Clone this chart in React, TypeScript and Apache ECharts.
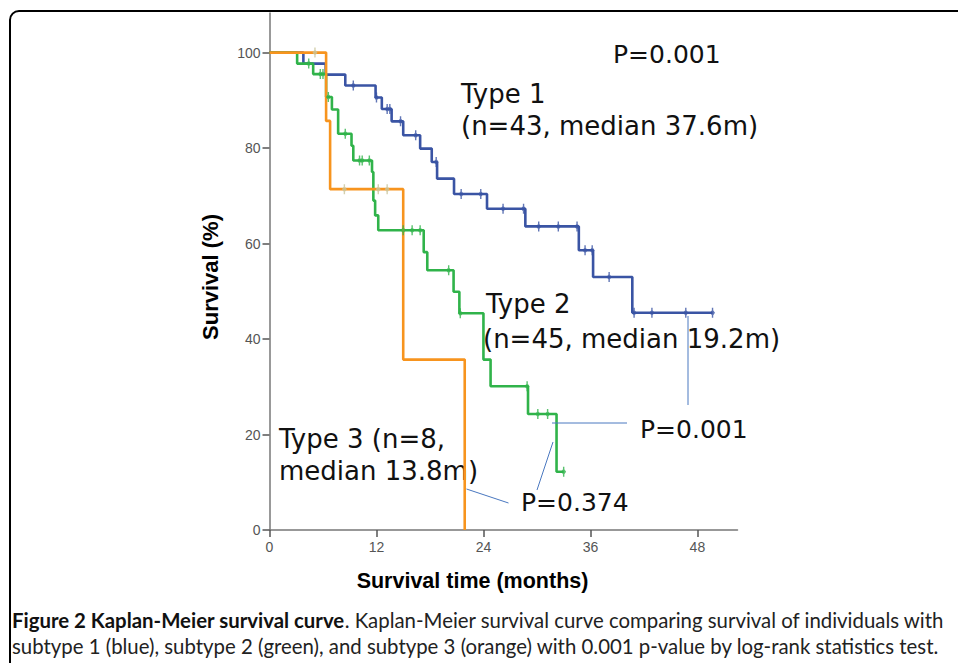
import React, { useEffect, useRef } from "react";
import * as echarts from "echarts";

// ---- axis ticks ----
const xTicks = [0, 12, 24, 36, 48];
const yTicks = [0, 20, 40, 60, 80, 100];

// ---- Type 1 (blue) ----
const type1Times = [0, 3.8, 6.3, 8.5, 11.9, 12.6, 13.7, 15.0, 16.9, 18.2, 18.8, 20.7, 24.4, 28.7, 34.7, 36.3, 40.7, 49.7];
const type1Surv = [100, 97.7, 95.4, 93.1, 90.6, 88.2, 85.6, 82.7, 79.9, 77.1, 73.6, 70.4, 67.3, 63.6, 58.6, 53.0, 45.5, 45.5];
const type1Censored = [9.4, 12.0, 13.2, 13.5, 14.7, 16.4, 18.7, 21.5, 23.7, 26.2, 28.5, 30.2, 32.4, 34.5, 35.4, 36.2, 38.1, 40.9, 42.9, 46.7, 49.7];

// ---- Type 2 (green) ----
const type2Times = [0, 3.1, 4.9, 6.35, 7.0, 7.7, 9.2, 9.4, 11.5, 11.65, 11.85, 12.2, 17.3, 17.7, 20.65, 21.3, 24.0, 24.8, 29.0, 32.2, 33.0];
const type2Surv = [100, 97.7, 95.5, 90.7, 88.1, 83.0, 80.5, 77.4, 75.0, 69.0, 65.9, 62.8, 58.2, 54.4, 49.9, 45.4, 35.7, 30.1, 24.3, 12.2, 12.2];
const type2Censored = [4.4, 5.7, 6.0, 6.6, 8.5, 10.1, 10.4, 11.2, 15.0, 16.0, 16.9, 20.1, 21.4, 28.9, 30.1, 31.2, 33.0];

// ---- Type 3 (orange) ----
const type3Times = [0, 6.35, 6.8, 15.0, 21.9];
const type3Surv = [100, 85.7, 71.4, 35.7, 0];
const type3Censored = [5.1, 8.4, 12.2, 13.2];

const BLUE = "#3a54a4";
const GREEN = "#30b34a";
const ORANGE = "#f7941e";
const ORANGE_CENSOR = "#c9c49a";
const NOTE_LINE = "#4a78c0";

const CENSOR_SYMBOL =
  "path://M-0.8,-4L0.8,-4L0.8,4L-0.8,4Z M0,-2.8L2.8,0L0,2.8L-2.8,0Z";

function stepValue(times: number[], surv: number[], t: number) {
  let v = surv[0];
  for (let i = 0; i < times.length; i++) if (times[i] <= t) v = surv[i];
  return v;
}

function curve(times: number[], surv: number[]) {
  return times.map((t, i) => [t, surv[i]]);
}

function censors(times: number[], surv: number[], cens: number[]) {
  return cens.map((t) => [t, stepValue(times, surv, t)]);
}

const CAP_BOLD = "Figure 2 Kaplan-Meier survival curve";
const CAP_REST = ". Kaplan-Meier survival curve comparing survival of individuals with";
const CAP_LINE2 =
  "subtype 1 (blue), subtype 2 (green), and subtype 3 (orange) with 0.001 p-value by log-rank statistics test.";
const CAP_FONT = "Lato";

function fitCaptionSize(): number {
  try {
    const c = document.createElement("canvas");
    const ctx = c.getContext("2d");
    if (!ctx) return 18;
    const base = 20;
    ctx.font = `bold ${base}px ${CAP_FONT}`;
    const w1 = ctx.measureText(CAP_BOLD).width;
    ctx.font = `${base}px ${CAP_FONT}`;
    const w2 = ctx.measureText(CAP_REST).width;
    const target = 933;
    return (base * target) / (w1 + w2);
  } catch (e) {
    return 18;
  }
}

export default function App() {
  const ref = useRef<HTMLDivElement>(null);

  useEffect(() => {
    if (!ref.current) return;
    const chart = echarts.init(ref.current, undefined, { renderer: "svg" });
    const capSize = fitCaptionSize();
    const pFont = { fontFamily: "DejaVu Sans", fontSize: 25, fill: "#111" };
    const noteFont = { fontFamily: "DejaVu Sans", fontSize: 26, fill: "#111" };

    const lineSeries = (name: string, data: number[][], color: string, z: number) => ({
      name,
      type: "line",
      step: "end",
      data,
      showSymbol: false,
      symbol: "none",
      lineStyle: { color, width: 2.6 },
      itemStyle: { color },
      z,
      silent: true,
    });
    const censorSeries = (name: string, data: number[][], color: string, z: number) => ({
      name,
      type: "scatter",
      data,
      symbol: CENSOR_SYMBOL,
      symbolKeepAspect: true,
      symbolSize: [7, 10],
      itemStyle: { color },
      z,
      silent: true,
    });

    chart.setOption({
      animation: false,
      backgroundColor: "#ffffff",
      grid: {
        left: 269.5,
        top: 13,
        width: 468,
        height: 517,
        containLabel: false,
        outerBoundsMode: "none",
      },
      xAxis: {
        type: "value",
        min: 0,
        max: 52.5,
        interval: 12,
        axisLine: { show: true, lineStyle: { color: "#777", width: 1.5 } },
        axisTick: { show: true, length: 7, lineStyle: { color: "#555", width: 1.5 }, customValues: xTicks },
        axisLabel: {
          color: "#555",
          fontSize: 14,
          fontFamily: "Liberation Sans",
          margin: 10,
          customValues: xTicks,
        },
        splitLine: { show: false },
      },
      yAxis: {
        type: "value",
        min: 0,
        max: 108.3,
        interval: 20,
        axisLine: { show: true, lineStyle: { color: "#777", width: 1.5 } },
        axisTick: { show: true, length: 7, lineStyle: { color: "#555", width: 1.5 }, customValues: yTicks },
        axisLabel: {
          color: "#555",
          fontSize: 14,
          fontFamily: "Liberation Sans",
          margin: 9,
          customValues: yTicks,
        },
        splitLine: { show: false },
      },
      series: [
        lineSeries("Type 1", curve(type1Times, type1Surv), BLUE, 2),
        lineSeries("Type 2", curve(type2Times, type2Surv), GREEN, 3),
        lineSeries("Type 3", curve(type3Times, type3Surv), ORANGE, 4),
        censorSeries("Type 1 censored", censors(type1Times, type1Surv, type1Censored), BLUE, 5),
        censorSeries("Type 2 censored", censors(type2Times, type2Surv, type2Censored), GREEN, 5),
        censorSeries("Type 3 censored", censors(type3Times, type3Surv, type3Censored), ORANGE_CENSOR, 5),
      ],
      graphic: [
        // outer frame
        {
          type: "rect",
          shape: { x: 10, y: 11, width: 1000, height: 720, r: 9 },
          style: { fill: "none", stroke: "#000", lineWidth: 2 },
          silent: true,
        },
        // axis titles
        {
          type: "text",
          x: 210,
          y: 277,
          rotation: Math.PI / 2,
          style: {
            text: "Survival (%)",
            fontFamily: "Liberation Sans",
            fontWeight: "bold",
            fontSize: 22,
            fill: "#000",
            align: "center",
            verticalAlign: "middle",
          },
        },
        {
          type: "text",
          x: 472.5,
          y: 581,
          style: {
            text: "Survival time (months)",
            fontFamily: "Liberation Sans",
            fontWeight: "bold",
            fontSize: 21.5,
            fill: "#000",
            align: "center",
            verticalAlign: "middle",
          },
        },
        // annotations
        { type: "text", x: 613, y: 54, style: { ...pFont, text: "P=0.001", verticalAlign: "middle" } },
        { type: "text", x: 461, y: 94, style: { ...noteFont, text: "Type 1", verticalAlign: "middle" } },
        { type: "text", x: 461, y: 126, style: { ...noteFont, text: "(n=43, median 37.6m)", verticalAlign: "middle" } },
        { type: "text", x: 486, y: 304, style: { ...noteFont, text: "Type 2", verticalAlign: "middle" } },
        { type: "text", x: 483, y: 339, style: { ...noteFont, text: "(n=45, median 19.2m)", verticalAlign: "middle" } },
        { type: "text", x: 640, y: 429, style: { ...pFont, text: "P=0.001", verticalAlign: "middle" } },
        { type: "text", x: 521, y: 502, style: { ...pFont, text: "P=0.374", verticalAlign: "middle" } },
        { type: "text", x: 279, y: 439, style: { ...noteFont, text: "Type 3 (n=8,", verticalAlign: "middle" } },
        { type: "text", x: 279, y: 471, style: { ...noteFont, text: "median 13.8m)", verticalAlign: "middle" } },
        // pointer lines
        { type: "line", shape: { x1: 688, y1: 316, x2: 688, y2: 405 }, style: { stroke: NOTE_LINE, lineWidth: 1 }, z: 10 },
        { type: "line", shape: { x1: 552, y1: 423, x2: 627, y2: 423 }, style: { stroke: NOTE_LINE, lineWidth: 1 }, z: 10 },
        { type: "line", shape: { x1: 553, y1: 442, x2: 537, y2: 490 }, style: { stroke: NOTE_LINE, lineWidth: 1 }, z: 10 },
        { type: "line", shape: { x1: 466.5, y1: 489, x2: 508.5, y2: 503 }, style: { stroke: NOTE_LINE, lineWidth: 1 }, z: 10 },
        // caption
        {
          type: "text",
          x: 12,
          y: 620,
          style: {
            text: `{b|${CAP_BOLD}}{n|${CAP_REST}}`,
            fontFamily: CAP_FONT,
            fontSize: capSize,
            fill: "#222",
            verticalAlign: "middle",
            rich: {
              b: { fontFamily: CAP_FONT, fontWeight: "bold", fontSize: capSize, fill: "#111" },
              n: { fontFamily: CAP_FONT, fontSize: capSize, fill: "#222" },
            },
          },
        },
        {
          type: "text",
          x: 12,
          y: 646,
          style: {
            text: CAP_LINE2,
            fontFamily: CAP_FONT,
            fontSize: capSize,
            fill: "#222",
            verticalAlign: "middle",
          },
        },
      ],
    });

    return () => {
      chart.dispose();
    };
  }, []);

  return (
    <div
      ref={ref}
      style={{ position: "fixed", left: 0, top: 0, width: 958, height: 663, background: "#fff" }}
    />
  );
}
